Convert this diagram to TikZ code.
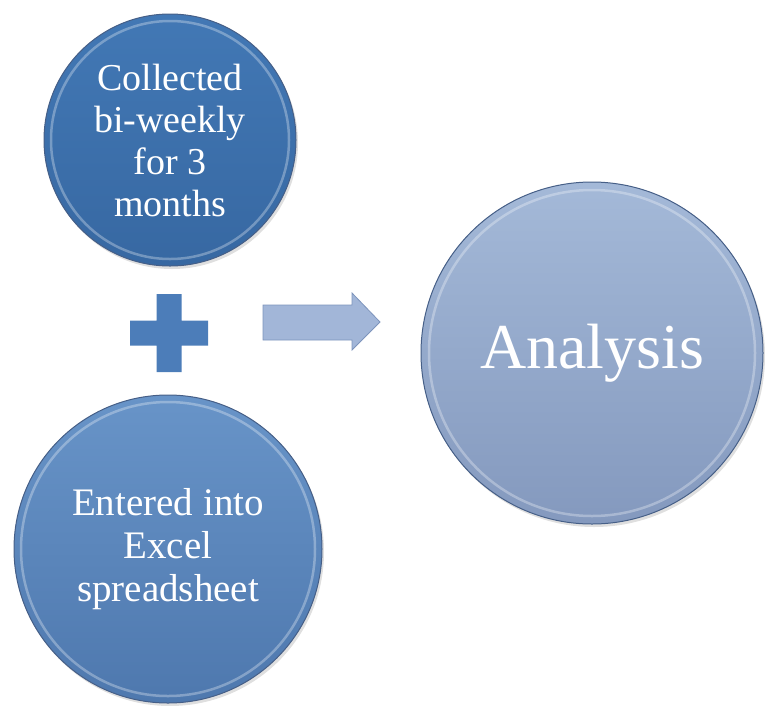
\documentclass[tikz,border=0pt]{standalone}
\usepackage{fontspec}
\setmainfont{Liberation Serif}
\usetikzlibrary{positioning}
\usetikzlibrary{shadows}
\definecolor{topblue}{RGB}{66,120,181}
\definecolor{topblued}{RGB}{55,104,162}
\definecolor{midblue}{RGB}{104,148,200}
\definecolor{midblued}{RGB}{78,120,174}
\definecolor{paleblue}{RGB}{164,185,216}
\definecolor{palebled}{RGB}{132,153,190}
\definecolor{rimblue}{RGB}{70,95,135}
\definecolor{plusblue}{RGB}{76,125,185}
\definecolor{arrowblue}{RGB}{162,182,216}
\definecolor{arrowedge}{RGB}{125,148,188}

\begin{document}
\begin{tikzpicture}[x=1pt, y=-1pt,
ball/.style={circle, inner sep=0pt, minimum size=#1, draw=rimblue, line width=1pt, text=white, align=center,
  drop shadow={opacity=0.25, shadow xshift=2pt, shadow yshift=-3pt}},
shine/.style={white, opacity=0.3, line width=2.5pt}]
\useasboundingbox (0,0) rectangle (765,705);

% circles
\node [ball=252pt, top color=topblue, bottom color=topblued, font=\fontsize{38}{42}\selectfont] (collect) at (170,140) {Collected\\bi-weekly\\for 3\\months};
\node [ball=308pt, top color=midblue, bottom color=midblued, font=\fontsize{39}{43}\selectfont] (enter) at (168,549) {Entered into\\Excel\\spreadsheet};
\node [ball=342pt, top color=paleblue, bottom color=palebled, font=\fontsize{64}{70}\selectfont] (analysis) at (592,353) {Analysis};

% bevel rings
\draw [shine] (collect) circle [radius=119];
\draw [shine] (enter) circle [radius=147];
\draw [shine] (analysis) circle [radius=163];

% plus
\fill [plusblue] (130,320.5) rectangle (208,345.5) (156.5,294) rectangle (181.5,372);

% arrow
\draw [arrowedge, fill=arrowblue, line width=0.8pt] (263,305) -- (352,305) -- (352,293) -- (380,322) -- (352,350) -- (352,340) -- (263,340) -- cycle;
\end{tikzpicture}
\end{document}
